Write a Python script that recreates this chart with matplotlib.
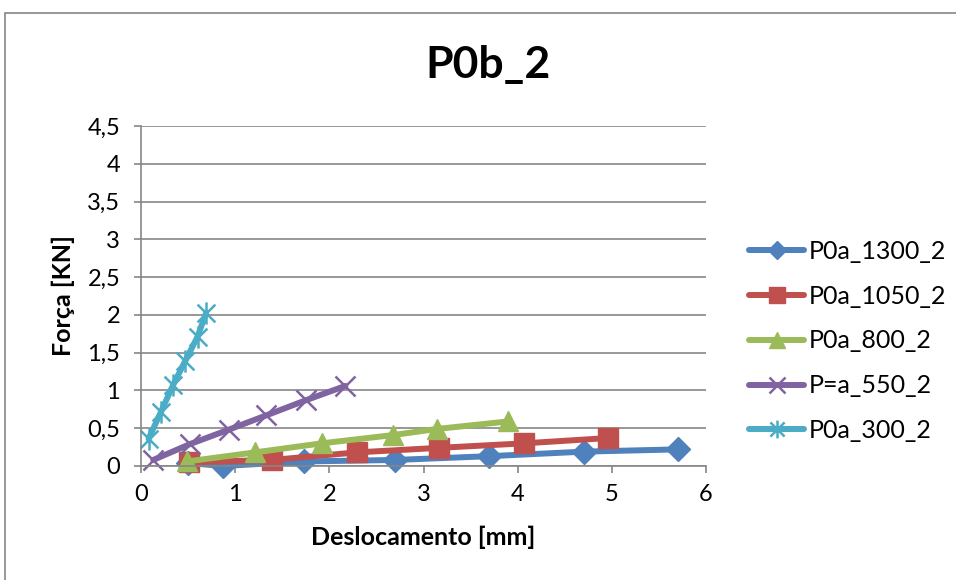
import matplotlib
matplotlib.use("Agg")
import matplotlib.pyplot as plt
from matplotlib.path import Path
from matplotlib.patches import Rectangle

plt.rcParams['font.family'] = ['Lato', 'DejaVu Sans']

# Force vs displacement series
x_1300 = [0.50, 0.87, 1.73, 2.70, 3.70, 4.70, 5.70]
y_1300 = [0.04, 0.00, 0.06, 0.08, 0.13, 0.19, 0.22]

x_1050 = [0.51, 1.39, 2.29, 3.16, 4.07, 4.96]
y_1050 = [0.05, 0.08, 0.18, 0.24, 0.30, 0.37]

x_800 = [0.49, 1.21, 1.92, 2.68, 3.14, 3.90]
y_800 = [0.06, 0.18, 0.30, 0.41, 0.49, 0.59]

x_550 = [0.13, 0.52, 0.93, 1.33, 1.75, 2.17]
y_550 = [0.08, 0.29, 0.48, 0.67, 0.87, 1.06]

x_300 = [0.08, 0.21, 0.34, 0.47, 0.60, 0.69]
y_300 = [0.36, 0.71, 1.07, 1.39, 1.71, 2.02]

labels = ['P0a_1300_2', 'P0a_1050_2', 'P0a_800_2', 'P=a_550_2', 'P0a_300_2']
colors = ['#4F81BD', '#C0504D', '#9BBB59', '#8064A2', '#4BACC6']

x_ticks = [0, 1, 2, 3, 4, 5, 6]
y_ticks = [0, 0.5, 1, 1.5, 2, 2.5, 3, 3.5, 4, 4.5]
y_tick_labels = ['0', '0,5', '1', '1,5', '2', '2,5', '3', '3,5', '4', '4,5']

# asterisk marker: an x with a vertical bar through it
asterisk = Path(
    [(-1, -1), (1, 1), (-1, 1), (1, -1), (0, -1.25), (0, 1.25)],
    [Path.MOVETO, Path.LINETO, Path.MOVETO, Path.LINETO, Path.MOVETO, Path.LINETO],
)

W, H = 956, 580
fig = plt.figure(figsize=(W / 100, H / 100), dpi=100)

# outer chart border
fig.patches.append(Rectangle((5 / W, 0 - 0.05), 1.0, (H - 13) / H + 0.05,
                             transform=fig.transFigure, fill=False,
                             edgecolor='#868686', linewidth=1.2))

ax = fig.add_axes([141 / W, (H - 466) / H, 565 / W, 340 / H])

grid_c = '#868686'
lw = 4.3
series = [
    (x_1300, y_1300, dict(marker='D', markersize=12)),
    (x_1050, y_1050, dict(marker='s', markersize=14)),
    (x_800, y_800, dict(marker='^', markersize=15)),
    (x_550, y_550, dict(marker='x', markersize=14, markeredgewidth=1.8)),
    (x_300, y_300, dict(marker=asterisk, markersize=16, markeredgewidth=1.8)),
]
for (xs, ys, mk), lab, c in zip(series, labels, colors):
    ax.plot(xs, ys, color=c, linewidth=lw, label=lab, clip_on=False,
            markerfacecolor=c, markeredgecolor=c, solid_capstyle='round', **mk)

ax.set_xlim(0, 6)
ax.set_ylim(0, 4.5)
ax.set_xticks(x_ticks)
ax.set_yticks(y_ticks)
ax.set_yticklabels(y_tick_labels)
ax.yaxis.grid(True, color=grid_c, linewidth=1.2)
ax.set_axisbelow(True)
for s in ['top', 'right']:
    ax.spines[s].set_visible(False)
for s in ['left', 'bottom']:
    ax.spines[s].set_color(grid_c)
    ax.spines[s].set_linewidth(1.2)
ax.tick_params(axis='both', colors=grid_c, length=5, width=1.2, labelsize=17,
               labelcolor='black', direction='out')
ax.tick_params(axis='x', pad=8)
ax.tick_params(axis='y', pad=10)

ax.set_xlabel('Deslocamento [mm]', fontsize=18, fontweight='bold', labelpad=15)
ax.set_ylabel('Força [KN]', fontsize=18, fontweight='bold', labelpad=9)

fig.text(488 / W, 1 - 65 / H, 'P0b_2', fontsize=32, fontweight='bold',
         ha='center', va='center')

leg = ax.legend(loc='center left', bbox_to_anchor=(749 / W, 1 - 341 / H),
                bbox_transform=fig.transFigure, frameon=False, fontsize=18,
                handlelength=2.2, handletextpad=0.2, labelspacing=0.87,
                borderpad=0, borderaxespad=0, markerscale=0.8)

fig.savefig('out.png', dpi=100)
